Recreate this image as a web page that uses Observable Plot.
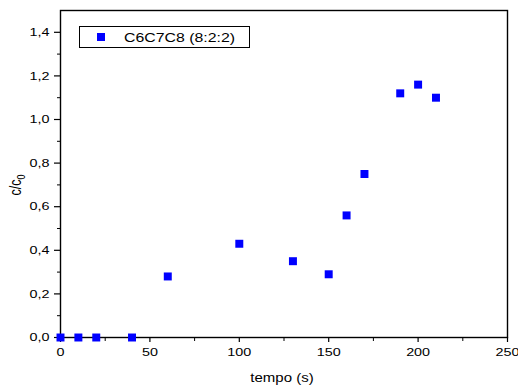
<!DOCTYPE html>
<html>
<head>
<meta charset="utf-8">
<script src="https://cdn.jsdelivr.net/npm/d3@7"></script>
<script src="https://cdn.jsdelivr.net/npm/@observablehq/plot@0.6"></script>
<style>
  html, body { margin: 0; padding: 0; background: #fff; }
  #chart { width: 518px; height: 385px; }
</style>
</head>
<body>
<div id="chart"></div>
<script>
const seriesName = "C6C7C8 (8:2:2)";
const tempo = [0, 10, 20, 40, 60, 100, 130, 150, 160, 170, 190, 200, 210];
const ratio = [0, 0, 0, 0, 0.28, 0.43, 0.35, 0.29, 0.56, 0.75, 1.12, 1.16, 1.10];
const xMajor = [0, 50, 100, 150, 200, 250];
const xMinor = [25, 75, 125, 175, 225];
const yMajor = [0, 0.2, 0.4, 0.6, 0.8, 1.0, 1.2, 1.4];
const yMinor = [0.1, 0.3, 0.5, 0.7, 0.9, 1.1, 1.3];

const data = tempo.map((t, i) => ({t, v: ratio[i]}));
const comma = d => d.toFixed(1).replace(".", ",");
const SX = 1.25; // horizontal stretch of the reference text

const plot = Plot.plot({
  width: 518,
  height: 385,
  marginLeft: 60,
  marginRight: 11,
  marginTop: 10,
  marginBottom: 48,
  style: {fontFamily: "'Liberation Sans', Arial, sans-serif", fontSize: "11px", color: "#000", background: "#fff"},
  x: {domain: [0, 250]},
  y: {domain: [0, 1.5]},
  marks: [
    Plot.axisX(xMajor, {tickSize: 5, tickPadding: 5, tickFormat: d => String(d), label: null, strokeWidth: 1.2, fontSize: 11.5}),
    Plot.axisX(xMinor, {tickSize: 4, text: null, label: null, strokeWidth: 1}),
    Plot.axisY(yMajor, {tickSize: 6, tickPadding: 5, tickFormat: comma, label: null, strokeWidth: 1.2, fontSize: 11.5}),
    Plot.axisY(yMinor, {tickSize: 3, text: null, label: null, strokeWidth: 1}),
    Plot.frame({stroke: "#000", strokeWidth: 1.4}),
    Plot.dot(data, {x: "t", y: "v", symbol: "square", r: 4.5, fill: "#0000ff", stroke: "none"})
  ]
});
document.getElementById("chart").appendChild(plot);

const svg = d3.select(plot);
// stretch tick labels horizontally like the reference
svg.selectAll("g[aria-label$='tick label'] text").each(function() {
  const t = d3.select(this);
  let tr = t.attr("transform");
  if (!tr) {
    const x = +t.attr("x") || 0, y = +t.attr("y") || 0;
    t.attr("x", null).attr("y", null);
    tr = `translate(${x},${y})`;
  }
  t.attr("transform", `${tr} scale(${SX},1)`);
});

// x axis title
svg.append("text")
  .attr("transform", `translate(282,382) scale(${SX},1)`)
  .attr("text-anchor", "middle")
  .attr("font-size", 12)
  .attr("fill", "#000")
  .text("tempo (s)");
// y axis title with subscript
const yl = svg.append("text")
  .attr("transform", `translate(21,185) rotate(-90) scale(1,${SX})`)
  .attr("text-anchor", "middle")
  .attr("font-size", 12.5)
  .attr("fill", "#000");
yl.append("tspan").text("c/c");
yl.append("tspan").attr("font-size", 9).attr("dy", 3).text("0");
// legend
const lg = svg.append("g");
lg.append("rect").attr("x", 79.5).attr("y", 26.5).attr("width", 170).attr("height", 21)
  .attr("fill", "#fff").attr("stroke", "#000").attr("stroke-width", 1);
lg.append("rect").attr("x", 97).attr("y", 33).attr("width", 8).attr("height", 8).attr("fill", "#0000ff");
lg.append("text")
  .attr("transform", `translate(124,42) scale(${SX},1)`)
  .attr("text-anchor", "start")
  .attr("font-size", 12.7).attr("fill", "#000").text(seriesName);
</script>
</body>
</html>
